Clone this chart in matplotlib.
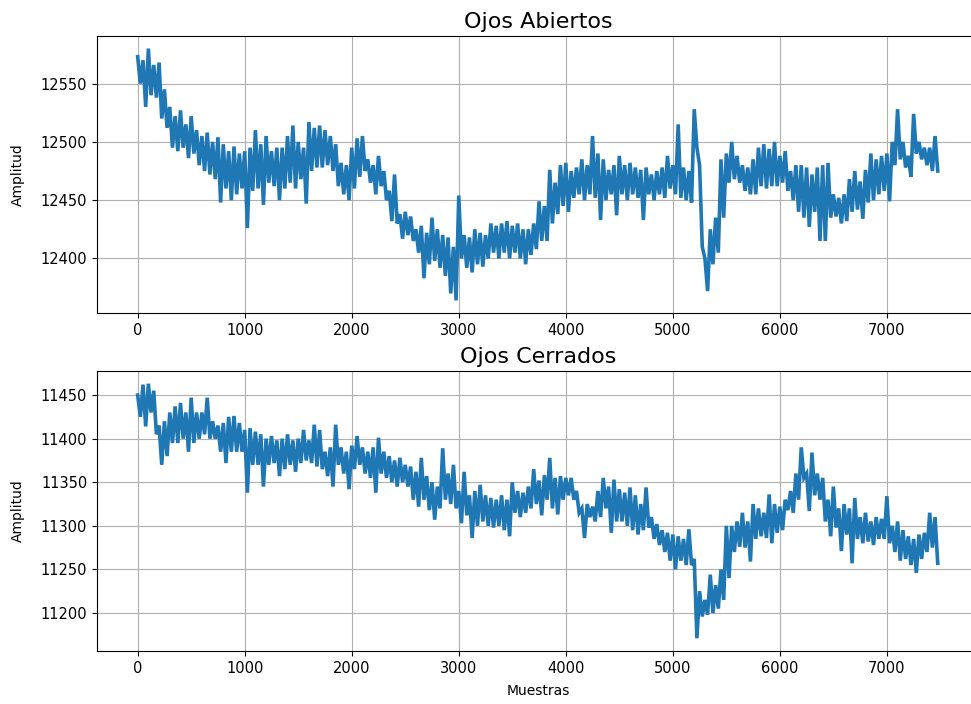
import numpy as np
import matplotlib
matplotlib.use("Agg")
import matplotlib.pyplot as plt

# Envelope readings (upper / lower) every 50 samples
open_hi = [
    12573, 12570, 12580, 12566, 12568, 12545, 12530, 12522, 12527, 12515,
    12522, 12510, 12505, 12508, 12500, 12504, 12498, 12492, 12496, 12490,
    12492, 12495, 12510, 12498, 12505, 12492, 12495, 12495, 12505, 12514,
    12500, 12495, 12517, 12512, 12514, 12510, 12505, 12498, 12482, 12480,
    12495, 12503, 12505, 12485, 12480, 12488, 12475, 12458, 12472, 12438,
    12440, 12436, 12425, 12428, 12422, 12435, 12425, 12420, 12418, 12410,
    12454, 12420, 12418, 12425, 12422, 12420, 12430, 12428, 12430, 12432,
    12428, 12430, 12425, 12425, 12430, 12449, 12445, 12476, 12465, 12480,
    12482, 12475, 12478, 12485, 12480, 12505, 12490, 12485, 12476, 12480,
    12488, 12480, 12482, 12478, 12476, 12478, 12472, 12475, 12478, 12488,
    12480, 12515, 12478, 12475, 12528, 12480, 12400, 12425, 12435, 12485,
    12490, 12500, 12488, 12480, 12478, 12485, 12495, 12498, 12494, 12500,
    12488, 12492, 12475, 12480, 12480, 12478, 12472, 12478, 12480, 12482,
    12455, 12452, 12455, 12468, 12475, 12466, 12476, 12490, 12485, 12488,
    12490, 12500, 12528, 12500, 12488, 12524, 12500, 12495, 12495, 12505,
]
open_lo = [
    12550, 12530, 12540, 12538, 12520, 12512, 12495, 12492, 12495, 12486,
    12490, 12480, 12475, 12472, 12468, 12448, 12460, 12450, 12455, 12460,
    12426, 12458, 12460, 12446, 12465, 12462, 12450, 12460, 12465, 12460,
    12468, 12447, 12475, 12478, 12478, 12480, 12475, 12462, 12455, 12450,
    12460, 12470, 12475, 12465, 12455, 12462, 12450, 12432, 12430, 12417,
    12420, 12415, 12405, 12383, 12395, 12398, 12392, 12385, 12370, 12364,
    12400, 12392, 12388, 12395, 12393, 12400, 12405, 12400, 12405, 12400,
    12405, 12400, 12395, 12403, 12408, 12415, 12415, 12430, 12438, 12445,
    12440, 12452, 12455, 12450, 12455, 12452, 12433, 12450, 12455, 12437,
    12455, 12450, 12455, 12452, 12433, 12455, 12450, 12455, 12452, 12460,
    12455, 12452, 12450, 12448, 12495, 12410, 12372, 12395, 12405, 12435,
    12465, 12468, 12465, 12458, 12455, 12455, 12462, 12460, 12462, 12462,
    12465, 12458, 12450, 12440, 12435, 12427, 12440, 12415, 12415, 12435,
    12436, 12430, 12432, 12440, 12442, 12434, 12448, 12450, 12455, 12458,
    12449, 12480, 12485, 12478, 12470, 12490, 12485, 12480, 12475, 12475,
]
closed_hi = [
    11450, 11462, 11463, 11455, 11415, 11420, 11430, 11437, 11441, 11430,
    11447, 11430, 11430, 11447, 11420, 11415, 11418, 11425, 11426, 11418,
    11410, 11412, 11408, 11405, 11400, 11403, 11398, 11400, 11405, 11398,
    11400, 11410, 11398, 11416, 11410, 11385, 11390, 11416, 11390, 11385,
    11392, 11403, 11390, 11385, 11390, 11401, 11385, 11380, 11375, 11378,
    11370, 11368, 11362, 11378, 11357, 11350, 11345, 11389, 11360, 11370,
    11340, 11362, 11335, 11340, 11347, 11335, 11332, 11330, 11335, 11330,
    11350, 11340, 11338, 11345, 11365, 11352, 11358, 11378, 11355, 11357,
    11355, 11355, 11340, 11320, 11325, 11322, 11340, 11355, 11345, 11353,
    11342, 11338, 11344, 11335, 11325, 11344, 11310, 11302, 11295, 11292,
    11290, 11288, 11285, 11296, 11262, 11225, 11215, 11244, 11232, 11250,
    11300, 11300, 11305, 11315, 11305, 11325, 11320, 11315, 11336, 11325,
    11322, 11330, 11340, 11360, 11390, 11360, 11384, 11360, 11355, 11330,
    11345, 11320, 11325, 11320, 11332, 11310, 11315, 11305, 11310, 11308,
    11334, 11300, 11305, 11295, 11288, 11285, 11290, 11292, 11315, 11310,
]
closed_lo = [
    11425, 11414, 11430, 11405, 11370, 11380, 11395, 11395, 11400, 11385,
    11395, 11400, 11405, 11400, 11400, 11385, 11372, 11385, 11385, 11385,
    11338, 11370, 11370, 11345, 11370, 11372, 11357, 11365, 11370, 11362,
    11372, 11375, 11372, 11368, 11365, 11357, 11345, 11370, 11360, 11342,
    11365, 11370, 11360, 11355, 11338, 11360, 11355, 11350, 11345, 11350,
    11345, 11330, 11322, 11330, 11318, 11307, 11320, 11330, 11325, 11320,
    11303, 11312, 11286, 11300, 11305, 11300, 11298, 11300, 11295, 11288,
    11315, 11310, 11315, 11320, 11325, 11312, 11330, 11320, 11313, 11330,
    11335, 11330, 11315, 11286, 11310, 11305, 11310, 11320, 11292, 11305,
    11305, 11300, 11295, 11290, 11295, 11298, 11285, 11278, 11270, 11260,
    11250, 11260, 11255, 11255, 11171, 11196, 11198, 11200, 11205, 11215,
    11240, 11270, 11276, 11275, 11259, 11285, 11288, 11286, 11280, 11292,
    11295, 11318, 11315, 11330, 11355, 11317, 11335, 11330, 11305, 11288,
    11298, 11271, 11290, 11257, 11285, 11280, 11282, 11278, 11285, 11285,
    11280, 11270, 11260, 11262, 11255, 11246, 11262, 11270, 11275, 11257,
]
step = 25  # samples between consecutive readings
titles = ["Ojos Abiertos", "Ojos Cerrados"]
xticks = [0, 1000, 2000, 3000, 4000, 5000, 6000, 7000]


def series(hi, lo):
    y = np.empty(2 * len(hi))
    y[0::2] = hi
    y[1::2] = lo
    x = np.arange(len(y)) * step
    return x, y


W, H = 971, 704
fig = plt.figure(figsize=(W / 100, H / 100), dpi=100)
ax1 = fig.add_axes([97 / W, 1 - 313 / H, 883 / W, 277 / H])
ax2 = fig.add_axes([97 / W, 1 - 651 / H, 883 / W, 280 / H])

for ax, (hi, lo), title in zip([ax1, ax2], [(open_hi, open_lo), (closed_hi, closed_lo)], titles):
    x, y = series(hi, lo)
    ax.plot(x, y, color="#1f77b4", linewidth=2.6, solid_joinstyle="miter")
    ax.set_title(title, fontsize=16)
    ax.set_ylabel("Amplitud", labelpad=11)
    ax.grid(True)
    ax.set_xticks(xticks)
    ax.set_xlim(-380, 7870)
    ax.tick_params(labelsize=10.5)

ax2.set_xlabel("Muestras", labelpad=6)
fig.savefig("out.png", dpi=100)
